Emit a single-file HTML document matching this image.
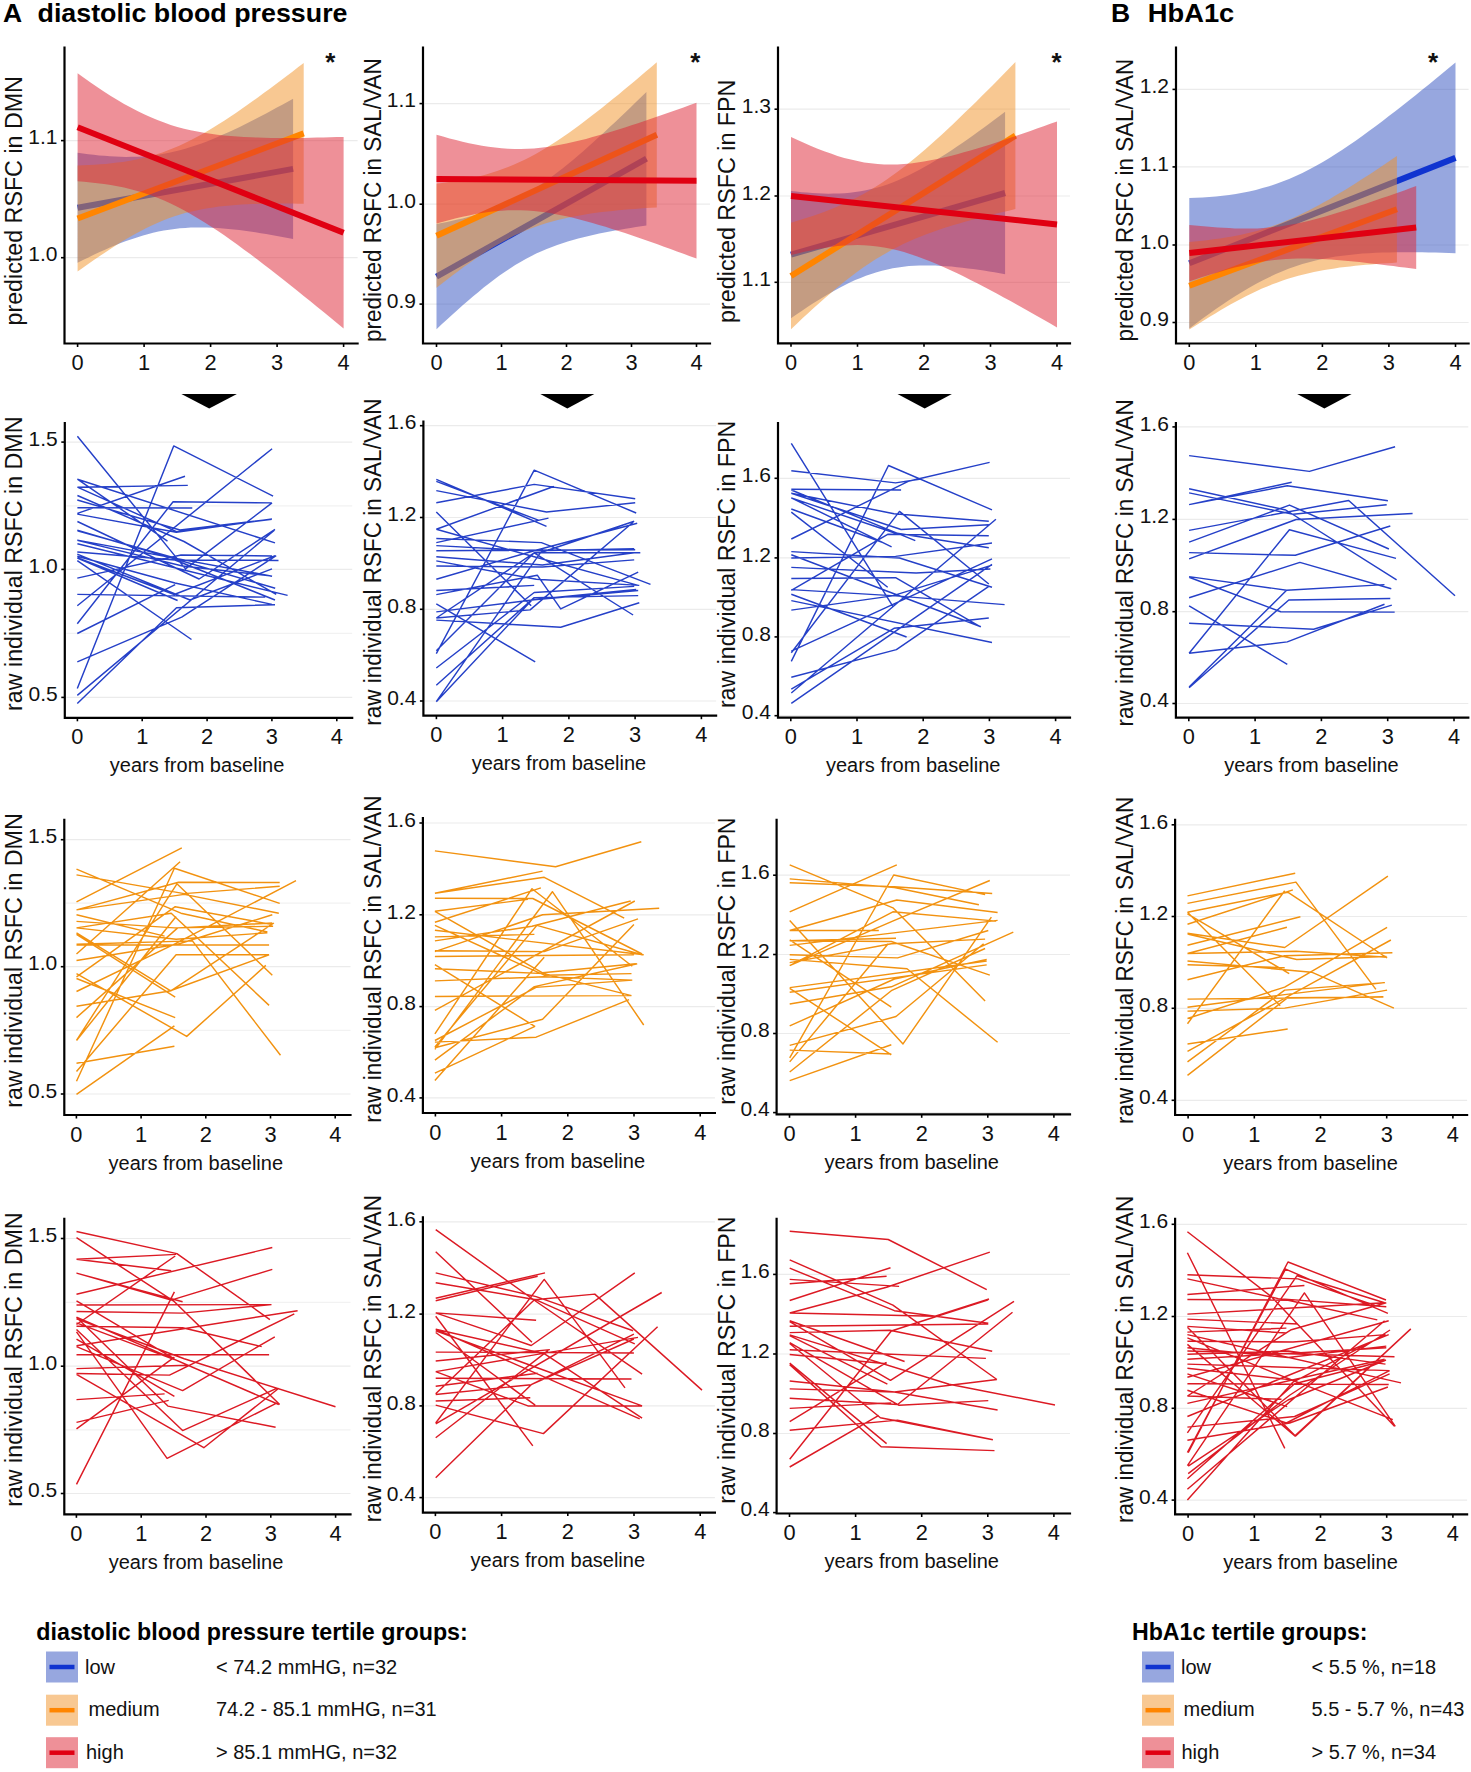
<!DOCTYPE html>
<html><head><meta charset="utf-8"><style>html,body{margin:0;padding:0;background:#fff;}svg{display:block;}</style></head>
<body><svg width="1471" height="1772" viewBox="0 0 1471 1772" font-family="Liberation Sans, sans-serif"><rect width="1471" height="1772" fill="#fff"/><line x1="66.0" y1="257.7" x2="357.6" y2="257.7" stroke="#ebebeb" stroke-width="1.2"/><line x1="66.0" y1="140.6" x2="357.6" y2="140.6" stroke="#ebebeb" stroke-width="1.2"/><line x1="424.5" y1="304.1" x2="710.0" y2="304.1" stroke="#ebebeb" stroke-width="1.2"/><line x1="424.5" y1="204.2" x2="710.0" y2="204.2" stroke="#ebebeb" stroke-width="1.2"/><line x1="424.5" y1="103.6" x2="710.0" y2="103.6" stroke="#ebebeb" stroke-width="1.2"/><line x1="779.5" y1="282.3" x2="1070.0" y2="282.3" stroke="#ebebeb" stroke-width="1.2"/><line x1="779.5" y1="196.0" x2="1070.0" y2="196.0" stroke="#ebebeb" stroke-width="1.2"/><line x1="779.5" y1="109.2" x2="1070.0" y2="109.2" stroke="#ebebeb" stroke-width="1.2"/><line x1="1177.5" y1="322.5" x2="1468.6" y2="322.5" stroke="#ebebeb" stroke-width="1.2"/><line x1="1177.5" y1="245.0" x2="1468.6" y2="245.0" stroke="#ebebeb" stroke-width="1.2"/><line x1="1177.5" y1="166.9" x2="1468.6" y2="166.9" stroke="#ebebeb" stroke-width="1.2"/><line x1="1177.5" y1="89.4" x2="1468.6" y2="89.4" stroke="#ebebeb" stroke-width="1.2"/><line x1="66.3" y1="697.4" x2="352.2" y2="697.4" stroke="#ebebeb" stroke-width="1.2"/><line x1="66.3" y1="569.4" x2="352.2" y2="569.4" stroke="#ebebeb" stroke-width="1.2"/><line x1="66.3" y1="442.1" x2="352.2" y2="442.1" stroke="#ebebeb" stroke-width="1.2"/><line x1="66.3" y1="505.8" x2="352.2" y2="505.8" stroke="#f2f2f2" stroke-width="1.2"/><line x1="66.3" y1="633.4" x2="352.2" y2="633.4" stroke="#f2f2f2" stroke-width="1.2"/><line x1="424.9" y1="701.0" x2="716.1" y2="701.0" stroke="#ebebeb" stroke-width="1.2"/><line x1="424.9" y1="609.3" x2="716.1" y2="609.3" stroke="#ebebeb" stroke-width="1.2"/><line x1="424.9" y1="517.5" x2="716.1" y2="517.5" stroke="#ebebeb" stroke-width="1.2"/><line x1="424.9" y1="425.7" x2="716.1" y2="425.7" stroke="#ebebeb" stroke-width="1.2"/><line x1="779.5" y1="715.7" x2="1070.0" y2="715.7" stroke="#ebebeb" stroke-width="1.2"/><line x1="779.5" y1="636.9" x2="1070.0" y2="636.9" stroke="#ebebeb" stroke-width="1.2"/><line x1="779.5" y1="557.9" x2="1070.0" y2="557.9" stroke="#ebebeb" stroke-width="1.2"/><line x1="779.5" y1="478.3" x2="1070.0" y2="478.3" stroke="#ebebeb" stroke-width="1.2"/><line x1="1177.4" y1="703.5" x2="1468.3" y2="703.5" stroke="#ebebeb" stroke-width="1.2"/><line x1="1177.4" y1="611.7" x2="1468.3" y2="611.7" stroke="#ebebeb" stroke-width="1.2"/><line x1="1177.4" y1="519.4" x2="1468.3" y2="519.4" stroke="#ebebeb" stroke-width="1.2"/><line x1="1177.4" y1="426.9" x2="1468.3" y2="426.9" stroke="#ebebeb" stroke-width="1.2"/><line x1="65.8" y1="1094.0" x2="350.5" y2="1094.0" stroke="#ebebeb" stroke-width="1.2"/><line x1="65.8" y1="966.7" x2="350.5" y2="966.7" stroke="#ebebeb" stroke-width="1.2"/><line x1="65.8" y1="839.7" x2="350.5" y2="839.7" stroke="#ebebeb" stroke-width="1.2"/><line x1="65.8" y1="903.2" x2="350.5" y2="903.2" stroke="#f2f2f2" stroke-width="1.2"/><line x1="65.8" y1="1030.3" x2="350.5" y2="1030.3" stroke="#f2f2f2" stroke-width="1.2"/><line x1="424.4" y1="1097.9" x2="714.9" y2="1097.9" stroke="#ebebeb" stroke-width="1.2"/><line x1="424.4" y1="1006.6" x2="714.9" y2="1006.6" stroke="#ebebeb" stroke-width="1.2"/><line x1="424.4" y1="914.8" x2="714.9" y2="914.8" stroke="#ebebeb" stroke-width="1.2"/><line x1="424.4" y1="823.0" x2="714.9" y2="823.0" stroke="#ebebeb" stroke-width="1.2"/><line x1="778.1" y1="1112.6" x2="1070.0" y2="1112.6" stroke="#ebebeb" stroke-width="1.2"/><line x1="778.1" y1="1033.5" x2="1070.0" y2="1033.5" stroke="#ebebeb" stroke-width="1.2"/><line x1="778.1" y1="954.5" x2="1070.0" y2="954.5" stroke="#ebebeb" stroke-width="1.2"/><line x1="778.1" y1="875.2" x2="1070.0" y2="875.2" stroke="#ebebeb" stroke-width="1.2"/><line x1="1176.6" y1="1100.3" x2="1467.1" y2="1100.3" stroke="#ebebeb" stroke-width="1.2"/><line x1="1176.6" y1="1008.3" x2="1467.1" y2="1008.3" stroke="#ebebeb" stroke-width="1.2"/><line x1="1176.6" y1="916.5" x2="1467.1" y2="916.5" stroke="#ebebeb" stroke-width="1.2"/><line x1="1176.6" y1="824.8" x2="1467.1" y2="824.8" stroke="#ebebeb" stroke-width="1.2"/><line x1="65.8" y1="1493.5" x2="350.5" y2="1493.5" stroke="#ebebeb" stroke-width="1.2"/><line x1="65.8" y1="1366.2" x2="350.5" y2="1366.2" stroke="#ebebeb" stroke-width="1.2"/><line x1="65.8" y1="1238.5" x2="350.5" y2="1238.5" stroke="#ebebeb" stroke-width="1.2"/><line x1="65.8" y1="1302.3" x2="350.5" y2="1302.3" stroke="#f2f2f2" stroke-width="1.2"/><line x1="65.8" y1="1429.8" x2="350.5" y2="1429.8" stroke="#f2f2f2" stroke-width="1.2"/><line x1="424.4" y1="1497.6" x2="714.9" y2="1497.6" stroke="#ebebeb" stroke-width="1.2"/><line x1="424.4" y1="1405.9" x2="714.9" y2="1405.9" stroke="#ebebeb" stroke-width="1.2"/><line x1="424.4" y1="1314.1" x2="714.9" y2="1314.1" stroke="#ebebeb" stroke-width="1.2"/><line x1="424.4" y1="1221.8" x2="714.9" y2="1221.8" stroke="#ebebeb" stroke-width="1.2"/><line x1="778.1" y1="1512.6" x2="1070.0" y2="1512.6" stroke="#ebebeb" stroke-width="1.2"/><line x1="778.1" y1="1433.5" x2="1070.0" y2="1433.5" stroke="#ebebeb" stroke-width="1.2"/><line x1="778.1" y1="1354.0" x2="1070.0" y2="1354.0" stroke="#ebebeb" stroke-width="1.2"/><line x1="778.1" y1="1274.4" x2="1070.0" y2="1274.4" stroke="#ebebeb" stroke-width="1.2"/><line x1="1176.6" y1="1500.1" x2="1467.1" y2="1500.1" stroke="#ebebeb" stroke-width="1.2"/><line x1="1176.6" y1="1408.3" x2="1467.1" y2="1408.3" stroke="#ebebeb" stroke-width="1.2"/><line x1="1176.6" y1="1316.5" x2="1467.1" y2="1316.5" stroke="#ebebeb" stroke-width="1.2"/><line x1="1176.6" y1="1224.3" x2="1467.1" y2="1224.3" stroke="#ebebeb" stroke-width="1.2"/><path d="M77.6 152.7 L83.0 153.5 L88.4 154.2 L93.8 154.8 L99.1 155.4 L104.5 155.8 L109.9 156.2 L115.3 156.6 L120.7 156.8 L126.1 156.9 L131.5 156.8 L136.9 156.7 L142.2 156.4 L147.6 156.0 L153.0 155.4 L158.4 154.7 L163.8 153.8 L169.2 152.7 L174.6 151.5 L179.9 150.2 L185.3 148.7 L190.7 147.1 L196.1 145.3 L201.5 143.4 L206.9 141.4 L212.3 139.2 L217.6 137.0 L223.0 134.6 L228.4 132.2 L233.8 129.7 L239.2 127.2 L244.6 124.5 L250.0 121.8 L255.4 119.1 L260.7 116.3 L266.1 113.4 L271.5 110.6 L276.9 107.6 L282.3 104.7 L287.7 101.7 L293.1 98.7 L293.1 239.1 L287.7 238.0 L282.3 237.0 L276.9 236.0 L271.5 235.0 L266.1 234.1 L260.7 233.2 L255.4 232.3 L250.0 231.5 L244.6 230.7 L239.2 230.0 L233.8 229.4 L228.4 228.9 L223.0 228.4 L217.6 228.0 L212.3 227.7 L206.9 227.5 L201.5 227.4 L196.1 227.4 L190.7 227.6 L185.3 227.9 L179.9 228.3 L174.6 228.9 L169.2 229.7 L163.8 230.6 L158.4 231.6 L153.0 232.8 L147.6 234.2 L142.2 235.7 L136.9 237.4 L131.5 239.2 L126.1 241.1 L120.7 243.1 L115.3 245.3 L109.9 247.5 L104.5 249.9 L99.1 252.3 L93.8 254.8 L88.4 257.4 L83.0 260.0 L77.6 262.7Z" fill="#2f4fc0" fill-opacity="0.5"/><line x1="77.6" y1="207.7" x2="293.1" y2="168.9" stroke="#1034d0" stroke-width="6"/><path d="M77.6 165.5 L83.3 165.3 L88.9 165.0 L94.6 164.7 L100.2 164.3 L105.9 163.9 L111.5 163.3 L117.2 162.6 L122.8 161.9 L128.5 161.0 L134.1 159.9 L139.8 158.8 L145.4 157.4 L151.1 155.9 L156.7 154.2 L162.4 152.4 L168.0 150.3 L173.7 148.1 L179.3 145.7 L185.0 143.0 L190.6 140.2 L196.3 137.3 L202.0 134.2 L207.6 130.9 L213.3 127.5 L218.9 124.0 L224.6 120.4 L230.2 116.7 L235.9 112.9 L241.5 109.0 L247.2 105.0 L252.8 101.0 L258.5 97.0 L264.1 92.8 L269.8 88.7 L275.4 84.5 L281.1 80.2 L286.7 76.0 L292.4 71.7 L298.0 67.3 L303.7 63.0 L303.7 203.8 L298.0 203.7 L292.4 203.6 L286.7 203.6 L281.1 203.6 L275.4 203.6 L269.8 203.6 L264.1 203.7 L258.5 203.9 L252.8 204.1 L247.2 204.3 L241.5 204.6 L235.9 205.0 L230.2 205.4 L224.6 206.0 L218.9 206.6 L213.3 207.4 L207.6 208.2 L202.0 209.2 L196.3 210.4 L190.6 211.7 L185.0 213.1 L179.3 214.8 L173.7 216.6 L168.0 218.6 L162.4 220.8 L156.7 223.2 L151.1 225.8 L145.4 228.5 L139.8 231.4 L134.1 234.5 L128.5 237.7 L122.8 241.1 L117.2 244.6 L111.5 248.2 L105.9 251.9 L100.2 255.7 L94.6 259.5 L88.9 263.4 L83.3 267.4 L77.6 271.5Z" fill="#f19225" fill-opacity="0.5"/><line x1="77.6" y1="218.5" x2="303.7" y2="133.4" stroke="#ff8500" stroke-width="6"/><path d="M77.6 73.3 L84.2 78.1 L90.9 82.7 L97.5 87.3 L104.2 91.7 L110.8 95.9 L117.5 100.0 L124.1 103.9 L130.8 107.6 L137.4 111.1 L144.1 114.3 L150.8 117.3 L157.4 120.1 L164.1 122.6 L170.7 124.9 L177.3 126.9 L184.0 128.7 L190.6 130.2 L197.3 131.6 L203.9 132.8 L210.6 133.8 L217.2 134.7 L223.9 135.4 L230.5 136.0 L237.2 136.5 L243.8 137.0 L250.5 137.3 L257.1 137.5 L263.8 137.7 L270.4 137.9 L277.1 138.0 L283.8 138.0 L290.4 138.0 L297.0 138.0 L303.7 137.9 L310.4 137.8 L317.0 137.6 L323.6 137.5 L330.3 137.3 L336.9 137.1 L343.6 136.9 L343.6 328.5 L336.9 323.0 L330.3 317.5 L323.6 312.1 L317.0 306.7 L310.4 301.3 L303.7 295.9 L297.0 290.6 L290.4 285.2 L283.8 280.0 L277.1 274.7 L270.4 269.6 L263.8 264.4 L257.1 259.3 L250.5 254.3 L243.8 249.4 L237.2 244.5 L230.5 239.8 L223.9 235.1 L217.2 230.6 L210.6 226.2 L203.9 221.9 L197.3 217.9 L190.6 213.9 L184.0 210.2 L177.3 206.8 L170.7 203.5 L164.1 200.5 L157.4 197.7 L150.8 195.2 L144.1 193.0 L137.4 191.0 L130.8 189.2 L124.1 187.6 L117.5 186.2 L110.8 185.0 L104.2 184.0 L97.5 183.2 L90.9 182.4 L84.2 181.8 L77.6 181.3Z" fill="#de2131" fill-opacity="0.5"/><line x1="77.6" y1="127.3" x2="343.6" y2="232.7" stroke="#e00012" stroke-width="6"/><path d="M436.5 224.0 L441.7 223.0 L447.0 221.9 L452.2 220.8 L457.5 219.6 L462.7 218.4 L468.0 217.1 L473.2 215.6 L478.5 214.1 L483.7 212.5 L489.0 210.7 L494.2 208.9 L499.5 206.8 L504.7 204.6 L510.0 202.2 L515.2 199.7 L520.5 197.0 L525.7 194.0 L531.0 190.9 L536.2 187.6 L541.5 184.1 L546.7 180.4 L552.0 176.6 L557.2 172.6 L562.5 168.5 L567.7 164.3 L573.0 159.9 L578.2 155.5 L583.5 150.9 L588.7 146.3 L594.0 141.6 L599.2 136.8 L604.5 132.0 L609.7 127.1 L615.0 122.2 L620.2 117.2 L625.5 112.2 L630.7 107.2 L636.0 102.1 L641.2 97.0 L646.4 91.9 L646.4 225.5 L641.2 226.3 L636.0 227.1 L630.7 227.9 L625.5 228.8 L620.2 229.7 L615.0 230.6 L609.7 231.6 L604.5 232.6 L599.2 233.6 L594.0 234.8 L588.7 236.0 L583.5 237.2 L578.2 238.6 L573.0 240.0 L567.7 241.5 L562.5 243.2 L557.2 245.0 L552.0 246.9 L546.7 249.0 L541.5 251.2 L536.2 253.6 L531.0 256.2 L525.7 259.0 L520.5 261.9 L515.2 265.1 L510.0 268.4 L504.7 271.9 L499.5 275.6 L494.2 279.5 L489.0 283.5 L483.7 287.6 L478.5 291.9 L473.2 296.3 L468.0 300.8 L462.7 305.3 L457.5 310.0 L452.2 314.7 L447.0 319.5 L441.7 324.3 L436.5 329.2Z" fill="#2f4fc0" fill-opacity="0.5"/><line x1="436.5" y1="276.6" x2="646.5" y2="158.7" stroke="#1034d0" stroke-width="6"/><path d="M436.5 183.8 L442.0 183.1 L447.5 182.3 L453.0 181.5 L458.5 180.5 L464.0 179.5 L469.6 178.4 L475.1 177.2 L480.6 175.9 L486.1 174.4 L491.6 172.8 L497.1 171.0 L502.6 169.1 L508.1 167.0 L513.6 164.8 L519.1 162.3 L524.6 159.7 L530.1 156.9 L535.7 153.9 L541.2 150.8 L546.7 147.5 L552.2 144.1 L557.7 140.5 L563.2 136.8 L568.7 132.9 L574.2 129.0 L579.7 124.9 L585.2 120.8 L590.7 116.6 L596.3 112.3 L601.8 108.0 L607.3 103.6 L612.8 99.1 L618.3 94.7 L623.8 90.1 L629.3 85.5 L634.8 80.9 L640.3 76.3 L645.8 71.6 L651.3 66.9 L656.8 62.2 L656.8 207.4 L651.3 207.7 L645.8 208.1 L640.3 208.5 L634.8 208.9 L629.3 209.3 L623.8 209.8 L618.3 210.3 L612.8 210.9 L607.3 211.5 L601.8 212.1 L596.3 212.8 L590.7 213.6 L585.2 214.4 L579.7 215.4 L574.2 216.4 L568.7 217.5 L563.2 218.7 L557.7 220.0 L552.2 221.5 L546.7 223.1 L541.2 224.8 L535.7 226.8 L530.1 228.8 L524.6 231.1 L519.1 233.5 L513.6 236.1 L508.1 238.9 L502.6 241.9 L497.1 245.0 L491.6 248.3 L486.1 251.8 L480.6 255.3 L475.1 259.1 L469.6 262.9 L464.0 266.8 L458.5 270.9 L453.0 275.0 L447.5 279.2 L442.0 283.5 L436.5 287.8Z" fill="#f19225" fill-opacity="0.5"/><line x1="436.5" y1="235.8" x2="656.9" y2="134.8" stroke="#ff8500" stroke-width="6"/><path d="M436.5 134.7 L443.0 136.6 L449.5 138.4 L456.0 140.1 L462.5 141.7 L469.0 143.2 L475.5 144.5 L482.0 145.7 L488.5 146.8 L495.0 147.6 L501.5 148.3 L508.0 148.7 L514.5 149.0 L521.0 149.0 L527.5 148.8 L534.0 148.4 L540.5 147.8 L547.0 146.9 L553.5 146.0 L560.0 144.8 L566.5 143.5 L573.0 142.1 L579.5 140.5 L586.0 138.9 L592.5 137.1 L599.0 135.3 L605.5 133.4 L612.0 131.5 L618.5 129.5 L625.0 127.4 L631.5 125.3 L638.0 123.2 L644.5 121.0 L651.0 118.8 L657.5 116.6 L664.0 114.3 L670.5 112.1 L677.0 109.8 L683.5 107.5 L690.0 105.1 L696.5 102.8 L696.5 258.6 L690.0 256.2 L683.5 253.8 L677.0 251.4 L670.5 249.0 L664.0 246.7 L657.5 244.3 L651.0 242.0 L644.5 239.7 L638.0 237.5 L631.5 235.3 L625.0 233.1 L618.5 231.0 L612.0 228.9 L605.5 226.8 L599.0 224.9 L592.5 223.0 L586.0 221.2 L579.5 219.4 L573.0 217.8 L566.5 216.3 L560.0 214.9 L553.5 213.7 L547.0 212.6 L540.5 211.7 L534.0 211.0 L527.5 210.5 L521.0 210.2 L514.5 210.2 L508.0 210.3 L501.5 210.7 L495.0 211.3 L488.5 212.1 L482.0 213.0 L475.5 214.1 L469.0 215.4 L462.5 216.8 L456.0 218.3 L449.5 220.0 L443.0 221.7 L436.5 223.5Z" fill="#de2131" fill-opacity="0.5"/><line x1="436.5" y1="179.1" x2="696.5" y2="180.7" stroke="#e00012" stroke-width="6"/><path d="M791.0 191.0 L796.4 191.6 L801.7 192.2 L807.1 192.6 L812.4 193.0 L817.8 193.3 L823.1 193.6 L828.5 193.7 L833.8 193.6 L839.2 193.5 L844.5 193.2 L849.9 192.7 L855.2 192.1 L860.6 191.3 L865.9 190.3 L871.3 189.1 L876.7 187.7 L882.0 186.2 L887.4 184.4 L892.7 182.4 L898.1 180.2 L903.4 177.8 L908.8 175.3 L914.1 172.6 L919.5 169.8 L924.8 166.8 L930.2 163.7 L935.5 160.4 L940.9 157.1 L946.2 153.7 L951.6 150.2 L957.0 146.6 L962.3 142.9 L967.7 139.2 L973.0 135.4 L978.4 131.6 L983.7 127.7 L989.1 123.8 L994.4 119.8 L999.8 115.8 L1005.1 111.8 L1005.1 274.2 L999.8 273.3 L994.4 272.3 L989.1 271.5 L983.7 270.6 L978.4 269.8 L973.0 269.1 L967.7 268.4 L962.3 267.7 L957.0 267.2 L951.6 266.6 L946.2 266.2 L940.9 265.9 L935.5 265.6 L930.2 265.5 L924.8 265.4 L919.5 265.5 L914.1 265.7 L908.8 266.1 L903.4 266.7 L898.1 267.4 L892.7 268.3 L887.4 269.4 L882.0 270.7 L876.7 272.2 L871.3 273.9 L865.9 275.8 L860.6 277.9 L855.2 280.1 L849.9 282.6 L844.5 285.2 L839.2 288.0 L833.8 290.9 L828.5 294.0 L823.1 297.2 L817.8 300.5 L812.4 303.8 L807.1 307.3 L801.7 310.9 L796.4 314.5 L791.0 318.2Z" fill="#2f4fc0" fill-opacity="0.5"/><line x1="791.0" y1="254.6" x2="1005.1" y2="193.0" stroke="#1034d0" stroke-width="6"/><path d="M791.0 222.7 L796.6 221.0 L802.2 219.3 L807.8 217.5 L813.4 215.7 L819.1 213.7 L824.7 211.7 L830.3 209.5 L835.9 207.2 L841.5 204.8 L847.1 202.3 L852.7 199.6 L858.3 196.7 L863.9 193.7 L869.6 190.5 L875.2 187.1 L880.8 183.5 L886.4 179.8 L892.0 175.8 L897.6 171.7 L903.2 167.5 L908.8 163.0 L914.4 158.5 L920.1 153.8 L925.7 149.0 L931.3 144.0 L936.9 139.0 L942.5 133.9 L948.1 128.7 L953.7 123.4 L959.3 118.0 L964.9 112.6 L970.5 107.2 L976.2 101.7 L981.8 96.1 L987.4 90.5 L993.0 84.9 L998.6 79.2 L1004.2 73.6 L1009.8 67.8 L1015.4 62.1 L1015.4 209.1 L1009.8 210.4 L1004.2 211.7 L998.6 213.0 L993.0 214.4 L987.4 215.8 L981.8 217.2 L976.2 218.7 L970.5 220.2 L964.9 221.7 L959.3 223.4 L953.7 225.0 L948.1 226.8 L942.5 228.6 L936.9 230.5 L931.3 232.5 L925.7 234.6 L920.1 236.8 L914.4 239.1 L908.8 241.5 L903.2 244.1 L897.6 246.9 L892.0 249.8 L886.4 252.9 L880.8 256.2 L875.2 259.6 L869.6 263.3 L863.9 267.1 L858.3 271.1 L852.7 275.2 L847.1 279.5 L841.5 284.0 L835.9 288.6 L830.3 293.4 L824.7 298.2 L819.1 303.2 L813.4 308.2 L807.8 313.4 L802.2 318.6 L796.6 323.9 L791.0 329.3Z" fill="#f19225" fill-opacity="0.5"/><line x1="791.0" y1="276.0" x2="1015.4" y2="135.6" stroke="#ff8500" stroke-width="6"/><path d="M791.0 136.9 L797.6 140.0 L804.3 143.0 L811.0 145.9 L817.6 148.7 L824.2 151.2 L830.9 153.6 L837.5 155.9 L844.2 157.9 L850.9 159.6 L857.5 161.1 L864.1 162.4 L870.8 163.3 L877.5 164.0 L884.1 164.4 L890.8 164.6 L897.4 164.4 L904.0 164.0 L910.7 163.4 L917.4 162.6 L924.0 161.5 L930.6 160.3 L937.3 159.0 L944.0 157.5 L950.6 155.9 L957.2 154.2 L963.9 152.3 L970.5 150.5 L977.2 148.5 L983.9 146.5 L990.5 144.4 L997.1 142.2 L1003.8 140.0 L1010.5 137.8 L1017.1 135.6 L1023.8 133.3 L1030.4 130.9 L1037.0 128.6 L1043.7 126.2 L1050.3 123.8 L1057.0 121.4 L1057.0 327.4 L1050.3 323.6 L1043.7 319.7 L1037.0 316.0 L1030.4 312.2 L1023.8 308.4 L1017.1 304.7 L1010.5 301.0 L1003.8 297.4 L997.1 293.8 L990.5 290.2 L983.9 286.7 L977.2 283.3 L970.5 279.9 L963.9 276.6 L957.2 273.3 L950.6 270.2 L944.0 267.2 L937.3 264.3 L930.6 261.5 L924.0 258.9 L917.4 256.4 L910.7 254.2 L904.0 252.1 L897.4 250.3 L890.8 248.7 L884.1 247.5 L877.5 246.4 L870.8 245.7 L864.1 245.2 L857.5 245.1 L850.9 245.2 L844.2 245.5 L837.5 246.1 L830.9 246.9 L824.2 247.9 L817.6 249.0 L811.0 250.4 L804.3 251.8 L797.6 253.4 L791.0 255.1Z" fill="#de2131" fill-opacity="0.5"/><line x1="791.0" y1="196.0" x2="1057.0" y2="224.4" stroke="#e00012" stroke-width="6"/><path d="M1189.3 198.1 L1196.0 197.8 L1202.6 197.4 L1209.3 197.0 L1215.9 196.4 L1222.6 195.7 L1229.2 194.9 L1235.9 193.9 L1242.5 192.7 L1249.2 191.4 L1255.8 189.9 L1262.5 188.1 L1269.2 186.2 L1275.8 184.0 L1282.5 181.6 L1289.1 178.9 L1295.8 176.0 L1302.4 172.9 L1309.1 169.5 L1315.7 166.0 L1322.4 162.2 L1329.1 158.2 L1335.7 154.0 L1342.4 149.7 L1349.0 145.3 L1355.7 140.7 L1362.3 135.9 L1369.0 131.1 L1375.6 126.2 L1382.3 121.2 L1388.9 116.1 L1395.6 111.0 L1402.3 105.8 L1408.9 100.5 L1415.6 95.2 L1422.2 89.8 L1428.9 84.4 L1435.5 79.0 L1442.2 73.5 L1448.8 68.0 L1455.5 62.5 L1455.5 253.3 L1448.8 253.0 L1442.2 252.8 L1435.5 252.6 L1428.9 252.4 L1422.2 252.3 L1415.6 252.2 L1408.9 252.2 L1402.3 252.2 L1395.6 252.3 L1388.9 252.4 L1382.3 252.6 L1375.6 252.8 L1369.0 253.2 L1362.3 253.6 L1355.7 254.2 L1349.0 254.9 L1342.4 255.7 L1335.7 256.6 L1329.1 257.7 L1322.4 259.0 L1315.7 260.5 L1309.1 262.2 L1302.4 264.1 L1295.8 266.2 L1289.1 268.6 L1282.5 271.2 L1275.8 274.1 L1269.2 277.2 L1262.5 280.5 L1255.8 284.0 L1249.2 287.8 L1242.5 291.7 L1235.9 295.8 L1229.2 300.1 L1222.6 304.6 L1215.9 309.1 L1209.3 313.8 L1202.6 318.6 L1196.0 323.5 L1189.3 328.5Z" fill="#2f4fc0" fill-opacity="0.5"/><line x1="1189.3" y1="263.3" x2="1455.5" y2="157.9" stroke="#1034d0" stroke-width="6"/><path d="M1189.3 242.0 L1194.5 241.5 L1199.7 241.0 L1204.9 240.4 L1210.1 239.8 L1215.3 239.1 L1220.4 238.4 L1225.6 237.6 L1230.8 236.7 L1236.0 235.7 L1241.2 234.7 L1246.4 233.5 L1251.6 232.3 L1256.8 230.9 L1262.0 229.4 L1267.2 227.8 L1272.4 226.1 L1277.5 224.2 L1282.7 222.2 L1287.9 220.1 L1293.1 217.9 L1298.3 215.5 L1303.5 213.0 L1308.7 210.5 L1313.9 207.8 L1319.1 205.0 L1324.3 202.1 L1329.5 199.2 L1334.6 196.1 L1339.8 193.0 L1345.0 189.9 L1350.2 186.7 L1355.4 183.4 L1360.6 180.1 L1365.8 176.8 L1371.0 173.4 L1376.2 169.9 L1381.4 166.5 L1386.6 163.0 L1391.7 159.5 L1396.9 156.0 L1396.9 262.6 L1391.7 262.9 L1386.6 263.2 L1381.4 263.6 L1376.2 264.0 L1371.0 264.4 L1365.8 264.8 L1360.6 265.3 L1355.4 265.8 L1350.2 266.4 L1345.0 267.0 L1339.8 267.6 L1334.6 268.4 L1329.5 269.2 L1324.3 270.0 L1319.1 271.0 L1313.9 272.0 L1308.7 273.2 L1303.5 274.4 L1298.3 275.8 L1293.1 277.2 L1287.9 278.8 L1282.7 280.5 L1277.5 282.4 L1272.4 284.3 L1267.2 286.4 L1262.0 288.6 L1256.8 291.0 L1251.6 293.4 L1246.4 296.0 L1241.2 298.7 L1236.0 301.5 L1230.8 304.3 L1225.6 307.3 L1220.4 310.3 L1215.3 313.4 L1210.1 316.5 L1204.9 319.7 L1199.7 323.0 L1194.5 326.3 L1189.3 329.6Z" fill="#f19225" fill-opacity="0.5"/><line x1="1189.3" y1="285.8" x2="1396.9" y2="209.3" stroke="#ff8500" stroke-width="6"/><path d="M1189.3 224.9 L1195.0 225.5 L1200.6 226.0 L1206.3 226.6 L1212.0 227.0 L1217.7 227.5 L1223.3 227.8 L1229.0 228.1 L1234.7 228.4 L1240.4 228.5 L1246.0 228.6 L1251.7 228.5 L1257.4 228.4 L1263.1 228.1 L1268.7 227.6 L1274.4 227.1 L1280.1 226.4 L1285.7 225.5 L1291.4 224.5 L1297.1 223.4 L1302.8 222.2 L1308.4 220.9 L1314.1 219.5 L1319.8 218.0 L1325.5 216.4 L1331.1 214.7 L1336.8 213.0 L1342.5 211.3 L1348.2 209.5 L1353.8 207.7 L1359.5 205.8 L1365.2 203.9 L1370.8 202.0 L1376.5 200.1 L1382.2 198.1 L1387.9 196.2 L1393.5 194.2 L1399.2 192.2 L1404.9 190.2 L1410.6 188.1 L1416.2 186.1 L1416.2 269.1 L1410.6 268.3 L1404.9 267.6 L1399.2 266.9 L1393.5 266.1 L1387.9 265.4 L1382.2 264.7 L1376.5 264.0 L1370.8 263.4 L1365.2 262.8 L1359.5 262.1 L1353.8 261.6 L1348.2 261.0 L1342.5 260.5 L1336.8 260.0 L1331.1 259.6 L1325.5 259.2 L1319.8 258.9 L1314.1 258.7 L1308.4 258.5 L1302.8 258.5 L1297.1 258.5 L1291.4 258.7 L1285.7 259.0 L1280.1 259.4 L1274.4 260.0 L1268.7 260.7 L1263.1 261.6 L1257.4 262.5 L1251.7 263.7 L1246.0 264.9 L1240.4 266.2 L1234.7 267.6 L1229.0 269.1 L1223.3 270.7 L1217.7 272.4 L1212.0 274.1 L1206.3 275.8 L1200.6 277.6 L1195.0 279.4 L1189.3 281.3Z" fill="#de2131" fill-opacity="0.5"/><line x1="1189.3" y1="253.1" x2="1416.2" y2="227.6" stroke="#e00012" stroke-width="6"/><path d="M77.4 436.3 L185.5 568.9 L272.0 502.9 M77.3 688.5 L173.7 445.9 L273.1 496.1 M77.3 623.7 L173.1 501.7 L271.9 502.9 M77.3 695.4 L274.4 530.2 M77.4 479.2 L275.0 542.9 M77.4 479.2 L167.5 541.2 M77.4 487.2 L187.8 485.4 M77.4 513.4 L185.0 476.3 M77.4 507.7 L192.3 508.0 M77.4 487.2 L176.5 531.6 L271.9 519.2 M77.4 495.5 L184.0 541.5 L276.2 594.3 M77.4 521.5 L199.1 579.0 L275.0 529.4 M77.4 530.8 L182.0 560.0 L278.5 560.4 M77.4 540.1 L272.0 576.2 M77.4 543.8 L287.6 595.4 M77.3 594.4 L265.3 597.1 M77.3 703.6 L176.5 607.7 L275.0 604.7 M77.3 633.5 L175.2 584.6 M77.3 661.8 L181.7 617.2 L276.2 555.7 M77.3 578.1 L181.0 555.0 L272.0 555.9 M77.3 558.0 L177.6 600.5 M77.3 560.7 L191.5 639.5 M77.3 552.0 L175.0 560.0 L275.0 600.0 M77.3 554.1 L190.0 600.0 L272.0 568.9 M77.3 605.7 L272.1 448.7 M77.3 556.3 L175.0 583.0 L272.0 604.4 M77.3 500.0 L180.0 530.0 L271.9 519.2 M77.3 514.1 L176.3 532.3 L272.0 519.0 M77.3 530.2 L275.2 588.3 M77.3 540.4 L182.4 566.0 L272.1 576.1 M77.3 557.8 L174.2 594.5 L275.2 555.7" fill="none" stroke="#2540c8" stroke-width="1.45" stroke-linejoin="round"/><path d="M436.3 479.3 L546.5 526.3 M436.3 481.4 L538.3 520.1 M436.3 490.6 L546.5 512.0 L635.2 502.8 M436.3 502.8 L534.2 484.4 L635.2 498.7 M436.3 512.0 L531.2 605.8 M436.3 653.7 L534.2 470.2 L636.2 513.0 M436.3 529.3 L553.6 486.5 M436.3 529.3 L534.2 556.8 L638.2 585.4 M436.3 538.5 L541.4 542.6 L650.5 584.4 M436.3 542.6 L548.5 518.1 M436.3 545.6 L534.2 550.7 L637.2 523.2 M436.3 550.7 L635.2 549.7 M436.3 556.8 L542.4 565.0 L634.2 552.8 M436.3 560.9 L536.3 579.3 L639.3 585.4 M436.3 566.0 L542.4 567.0 L634.2 559.9 M436.3 579.3 L534.2 550.7 L634.2 548.7 M436.3 590.5 L534.2 585.4 M436.3 594.6 L537.3 575.2 L560.7 608.9 L638.2 572.1 M436.3 603.8 L535.2 661.9 M436.3 611.9 L534.2 599.7 L638.2 590.5 M436.3 618.0 L534.2 552.8 L640.3 552.8 M436.3 620.1 L560.7 627.2 L639.3 602.7 M436.3 668.0 L534.2 592.5 L634.2 586.4 M436.3 685.3 L534.2 597.6 L638.2 595.6 M436.3 701.7 L540.3 552.8 L634.2 521.2 M436.3 701.7 L532.2 599.7 L636.2 589.5 M436.3 650.7 L534.2 552.8 L633.1 615.0 M436.3 618.0 L530.1 609.9 L633.1 522.2" fill="none" stroke="#2540c8" stroke-width="1.45" stroke-linejoin="round"/><path d="M791.3 443.4 L893.2 606.9 M791.3 470.8 L895.6 482.9 L920.9 479.0 M791.3 489.2 L901.1 490.0 M791.3 539.0 L908.2 481.3 L989.6 462.4 M791.3 490.0 L915.3 540.6 M791.3 493.2 L901.1 529.5 L988.8 524.8 M791.3 497.9 L891.6 546.9 M791.3 509.0 L882.2 542.2 M791.3 512.1 L887.7 587.2 M791.3 493.2 L894.0 513.7 L988.8 521.3 M791.3 652.7 L899.5 511.4 L988.8 584.0 M791.3 677.2 L896.4 649.6 L988.8 586.4 M791.3 551.6 L899.5 558.0 L992.0 587.2 M791.3 554.8 L980.9 626.7 M791.3 558.0 L895.6 556.4 L992.0 543.0 M791.3 567.4 L916.1 573.0 L990.4 569.0 M791.3 578.5 L895.6 577.7 L980.1 626.7 M791.3 590.3 L887.7 534.3 L988.8 535.8 M791.3 589.6 L895.6 595.9 L1004.6 604.6 M791.3 594.3 L906.6 637.0 M791.3 600.6 L992.0 642.5 M791.3 610.1 L892.4 595.9 L992.0 565.1 M791.3 651.2 L992.0 558.8 M791.3 661.4 L888.5 465.5 L992.0 509.8 M791.3 689.1 L894.0 628.3 L988.8 618.0 M791.3 693.0 L995.9 519.3 M791.3 703.3 L992.0 564.3 M791.3 497.9 L894.0 532.7 L988.8 547.7" fill="none" stroke="#2540c8" stroke-width="1.45" stroke-linejoin="round"/><path d="M1189.1 455.6 L1309.4 471.4 L1395.1 446.7 M1189.1 504.6 L1291.7 482.2 M1189.1 504.6 L1287.3 485.8 L1387.9 500.8 M1189.1 488.8 L1285.8 510.0 L1396.6 579.9 M1189.1 492.9 L1293.2 514.3 L1386.7 504.8 M1189.1 530.4 L1348.7 500.5 L1455.0 595.7 M1189.1 542.1 L1289.5 505.1 L1388.9 549.0 M1189.1 558.9 L1296.1 519.5 L1412.6 513.5 M1189.1 552.6 L1295.3 555.3 L1390.3 526.0 M1189.1 653.3 L1289.4 529.8 L1396.0 558.4 M1189.1 597.8 L1299.9 562.4 L1391.3 588.8 M1189.1 576.6 L1286.6 590.2 L1384.5 584.6 M1189.1 577.3 L1280.7 611.7 L1394.7 612.1 M1189.1 605.8 L1287.3 664.3 M1189.1 623.3 L1313.6 629.2 L1391.8 605.1 M1189.1 653.3 L1287.3 641.9 L1384.5 604.3 M1189.1 686.9 L1286.6 590.2 M1189.1 687.7 L1288.8 600.0 L1390.3 598.5" fill="none" stroke="#2540c8" stroke-width="1.45" stroke-linejoin="round"/><path d="M76.5 901.8 L181.8 847.9 M76.5 869.2 L180.9 913.2 L267.4 932.0 M76.5 1040.5 L176.9 883.8 L272.3 975.2 M76.5 954.0 L180.1 861.8 M76.5 1081.3 L174.4 868.3 L279.7 903.4 M76.5 909.9 L178.5 882.2 L279.7 882.5 M76.5 909.9 L184.2 894.4 L278.8 913.2 M76.5 991.5 L174.4 944.2 L296.0 880.6 M76.5 976.8 L175.2 906.7 L272.3 924.6 M76.5 927.9 L171.2 913.2 L269.1 1005.4 M76.5 944.2 L192.4 940.9 L280.5 1055.2 M76.5 945.0 L269.1 945.0 M76.5 932.8 L170.3 990.7 L269.1 954.8 M76.5 1071.5 L176.1 954.8 L269.1 954.8 M76.5 973.6 L186.7 1036.4 L265.8 965.4 M76.5 1063.3 L174.4 1046.2 M76.5 1094.3 L174.4 1025.8 M76.5 1006.2 L171.2 990.7 L273.9 923.0 M76.5 1017.6 L177.7 927.9 L272.3 923.0 M76.5 874.9 L184.2 893.6 L279.7 886.3 M76.5 914.8 L164.6 936.1 M76.5 921.4 L174.4 927.9 L273.1 926.3 M76.5 934.4 L175.2 997.2 M76.5 978.5 L175.2 1017.6 M76.5 960.5 L177.7 944.2 L272.3 914.8 M76.5 927.9 L176.1 939.3 L267.4 932.8 M76.5 1040.5 L176.1 916.5" fill="none" stroke="#f29210" stroke-width="1.45" stroke-linejoin="round"/><path d="M434.9 850.9 L555.6 866.7 L641.3 841.7 M434.9 893.3 L542.6 871.1 M434.9 893.3 L544.2 877.3 L624.2 918.1 M434.9 898.2 L532.8 898.5 L642.1 954.0 M434.9 1033.9 L532.0 888.7 L632.3 966.2 M434.9 922.2 L540.9 887.9 M434.9 1049.4 L552.4 891.7 L643.7 1025.0 M434.9 911.3 L542.6 972.8 L635.6 963.8 M434.9 911.3 L527.9 899.3 M434.9 951.6 L542.6 914.8 L659.2 908.3 M434.9 1010.3 L634.8 901.0 M434.9 1047.0 L536.9 925.4 L642.1 954.8 M434.9 940.9 L532.0 926.3 L630.7 901.0 M434.9 925.4 L544.2 975.2 L631.5 973.6 M434.9 930.3 L643.7 954.8 M434.9 950.7 L544.2 951.6 L638.0 918.9 M434.9 956.4 L633.9 954.8 M434.9 964.6 L535.2 1026.6 M434.9 968.7 L544.2 973.6 L631.5 995.6 M434.9 980.9 L544.2 976.8 L632.3 980.1 M434.9 996.4 L631.5 995.6 M434.9 1040.5 L536.1 987.4 L632.3 980.1 M434.9 1042.1 L536.1 1037.2 L629.1 999.7 M434.9 1047.8 L542.6 1019.3 L633.9 924.6 M434.9 1060.1 L534.4 986.6 L637.2 963.8 M434.9 1073.1 L534.4 1026.6 M434.9 1080.4 L544.2 957.3 M434.9 936.9 L534.4 934.4" fill="none" stroke="#f29210" stroke-width="1.45" stroke-linejoin="round"/><path d="M789.7 864.9 L892.9 907.8 L985.1 1000.9 M789.7 911.8 L896.8 864.9 M789.7 878.9 L894.4 887.5 L978.9 904.7 M789.7 882.8 L894.4 886.7 L992.2 893.5 M789.7 1057.9 L893.7 875.0 L985.1 894.6 M789.7 965.7 L894.4 920.4 L989.8 880.5 M789.7 930.5 L896.8 900.0 L997.6 912.5 M789.7 930.5 L878.8 930.5 M789.7 920.4 L903.0 1043.9 L991.4 917.2 M789.7 939.9 L891.3 1007.1 M789.7 940.7 L896.0 938.3 M789.7 940.7 L891.3 941.5 L989.8 975.1 M789.7 945.4 L997.6 920.4 M789.7 954.8 L897.6 957.9 L988.3 930.5 M789.7 962.6 L891.3 943.8 L985.1 939.1 M789.7 987.6 L986.7 961.0 M789.7 992.3 L986.7 964.9 M789.7 988.4 L891.3 1054.8 M789.7 1004.0 L891.3 986.8 L1013.3 932.1 M789.7 1025.9 L894.4 979.0 L986.7 959.4 M789.7 1045.4 L896.0 1016.5 L983.6 943.8 M789.7 1050.1 L891.3 1054.0 M789.7 1061.9 L888.2 943.8 M789.7 1072.0 L891.3 990.7 L985.1 948.5 M789.7 1080.6 L891.3 1044.7 M789.7 959.4 L907.0 968.8 L997.6 1042.3 M789.7 965.7 L892.9 911.8 L996.1 921.1" fill="none" stroke="#f29210" stroke-width="1.45" stroke-linejoin="round"/><path d="M1187.5 895.9 L1295.2 873.2 M1187.5 903.4 L1295.9 882.1 L1375.9 989.4 M1187.5 912.3 L1287.7 892.2 L1387.1 958.0 M1187.5 924.3 L1292.9 889.9 M1187.5 1023.8 L1284.7 890.7 M1187.5 912.3 L1280.2 1005.8 M1187.5 913.8 L1289.2 973.7 M1187.5 933.3 L1284.7 947.5 L1387.9 876.2 M1187.5 945.3 L1300.4 916.8 M1187.5 953.5 L1286.9 927.3 M1187.5 953.5 L1295.9 951.2 L1387.1 957.2 M1187.5 934.0 L1296.7 959.5 L1386.4 956.5 M1187.5 961.0 L1311.6 972.2 L1393.9 1008.1 M1187.5 979.7 L1284.7 955.7 L1392.4 952.7 M1187.5 999.1 L1383.4 996.9 M1187.5 1007.3 L1284.7 994.6 L1384.2 982.6 M1187.5 1011.1 L1284.7 1008.1 L1387.1 990.1 M1187.5 1018.5 L1284.7 987.1 L1387.1 927.3 M1187.5 1044.0 L1287.7 1029.0 M1187.5 1051.4 L1390.9 940.0 M1187.5 1061.9 L1284.7 990.1 L1384.9 982.6 M1187.5 1075.4 L1287.7 997.6 L1383.4 996.9 M1187.5 964.7 L1284.7 967.7" fill="none" stroke="#f29210" stroke-width="1.45" stroke-linejoin="round"/><path d="M76.5 1231.5 L176.9 1253.6 L269.9 1319.6 M76.5 1237.7 L174.4 1301.7 L279.7 1404.5 M76.5 1259.3 L171.2 1270.7 M76.5 1259.3 L176.1 1254.4 M76.5 1294.3 L272.3 1247.5 M76.5 1324.5 L175.2 1256.0 M76.5 1273.1 L182.6 1301.7 M76.5 1273.1 L171.2 1300.1 L272.3 1269.4 M76.5 1484.4 L174.4 1291.9 M76.5 1304.9 L271.5 1304.6 M76.5 1300.9 L174.4 1358.8 M76.5 1311.5 L182.6 1313.1 L271.5 1304.6 M76.5 1317.2 L278.8 1404.5 M76.5 1317.2 L167.9 1406.1 L275.6 1427.3 M76.5 1326.2 L182.6 1327.8 L261.7 1346.6 M76.5 1329.4 L182.6 1430.6 L277.2 1388.2 M76.5 1331.9 L167.1 1458.3 L275.6 1403.7 M76.5 1345.7 L297.6 1310.7 M76.5 1346.6 L182.6 1390.6 L274.8 1336.8 M76.5 1354.7 L269.1 1354.7 M76.5 1368.6 L187.5 1365.3 M76.5 1373.5 L169.5 1375.1 L294.3 1313.9 M76.5 1374.3 L203.8 1447.7 L278.8 1388.2 M76.5 1399.6 L164.6 1393.9 M76.5 1422.4 L168.7 1400.4 M76.5 1428.9 L174.4 1357.2 M76.5 1339.2 L174.4 1396.3 M76.5 1322.9 L174.4 1359.6 M76.5 1318.8 L184.2 1358.8 L335.5 1406.8" fill="none" stroke="#dc1a24" stroke-width="1.45" stroke-linejoin="round"/><path d="M435.7 1229.7 L536.1 1301.5 L642.1 1374.1 M435.7 1251.7 L532.0 1342.3 M435.7 1272.9 L536.1 1296.6 L633.1 1330.8 M435.7 1282.7 L536.1 1299.8 L634.8 1343.9 M435.7 1300.7 L537.7 1276.2 M435.7 1298.2 L545.0 1272.9 M435.7 1423.0 L544.2 1279.4 L625.0 1387.9 M435.7 1393.7 L534.4 1299.8 L594.8 1294.1 L702.0 1390.1 M435.7 1312.9 L531.2 1345.5 L634.8 1272.9 M435.7 1423.8 L661.7 1292.5 M435.7 1312.9 L536.1 1320.2 M435.7 1316.2 L532.8 1445.9 M435.7 1329.2 L639.7 1418.9 M435.7 1330.8 L642.1 1405.9 M435.7 1332.5 L535.2 1405.1 M435.7 1352.1 L633.9 1352.9 M435.7 1361.0 L549.9 1349.6 M435.7 1371.6 L527.9 1405.9 L642.1 1405.9 M435.7 1371.6 L638.0 1337.4 M435.7 1378.2 L631.5 1379.0 M435.7 1386.3 L537.7 1373.3 M435.7 1394.5 L531.2 1384.7 L633.9 1334.1 M435.7 1401.0 L530.3 1397.7 M435.7 1405.1 L543.4 1433.6 L657.6 1326.8 M435.7 1437.7 L548.3 1350.4 M435.7 1477.7 L531.2 1384.7 L633.9 1339.0 M435.7 1329.2 L544.2 1353.7 L642.1 1418.1" fill="none" stroke="#dc1a24" stroke-width="1.45" stroke-linejoin="round"/><path d="M789.7 1231.3 L888.2 1239.5 L986.7 1289.6 M789.7 1259.9 L892.9 1305.2 L996.9 1379.5 M789.7 1268.2 L894.4 1310.7 L988.3 1323.2 M789.7 1279.4 L899.1 1286.4 M789.7 1283.8 L886.6 1276.3 M789.7 1300.5 L890.5 1267.7 M789.7 1313.0 L886.6 1287.2 L989.8 1252.1 M789.7 1313.0 L935.1 1316.2 L989.0 1299.0 M789.7 1320.8 L904.6 1361.5 M789.7 1326.3 L988.3 1324.0 M789.7 1321.6 L890.5 1380.3 L1014.0 1301.3 M789.7 1332.6 L889.8 1330.2 L992.2 1351.3 M789.7 1334.9 L949.2 1384.2 L1055.0 1405.0 M789.7 1335.7 L887.4 1384.2 M789.7 1342.7 L899.1 1405.3 L988.3 1400.6 M789.7 1349.8 L985.9 1358.4 M789.7 1354.5 L886.6 1363.8 M789.7 1363.1 L886.6 1443.6 M789.7 1364.6 L881.2 1446.7 L994.5 1450.6 M789.7 1381.0 L894.4 1392.0 L997.6 1410.0 M789.7 1388.9 L894.4 1392.0 L996.9 1379.5 M789.7 1398.2 L897.6 1404.5 L1012.5 1312.2 M789.7 1408.4 L891.3 1402.9 M789.7 1421.7 L886.6 1362.3 M789.7 1430.3 L897.6 1420.1 L992.9 1439.7 M789.7 1459.2 L891.3 1331.0 L988.3 1299.7 M789.7 1467.0 L878.8 1415.4 M789.7 1343.5 L880.4 1417.8 L992.9 1439.7" fill="none" stroke="#dc1a24" stroke-width="1.45" stroke-linejoin="round"/><path d="M1187.4 1231.8 L1271.7 1296.9 L1394.5 1426.3 M1187.4 1252.7 L1284.8 1448.4 M1187.4 1452.5 L1285.6 1269.1 L1387.9 1313.3 M1187.4 1432.8 L1297.1 1275.7 L1384.6 1302.7 M1187.4 1465.6 L1304.4 1292.9 L1395.3 1426.3 M1187.4 1274.8 L1297.9 1278.9 L1376.5 1306.0 M1187.4 1278.9 L1278.2 1298.6 L1386.3 1306.8 M1187.4 1294.5 L1304.4 1285.5 M1187.4 1299.4 L1288.1 1300.2 L1377.3 1319.9 M1187.4 1314.1 L1384.6 1302.7 M1187.4 1327.2 L1295.4 1436.1 L1410.8 1328.9 M1187.4 1319.1 L1297.9 1324.0 M1187.4 1326.4 L1286.4 1333.0 M1187.4 1396.0 L1291.3 1329.7 L1386.3 1302.7 M1187.4 1341.2 L1293.0 1342.0 L1385.5 1334.6 M1187.4 1344.4 L1294.9 1435.9 L1399.9 1339.0 M1187.4 1334.6 L1401.0 1382.9 M1187.4 1351.0 L1394.5 1356.7 M1187.4 1359.2 L1386.3 1347.7 M1187.4 1364.1 L1389.6 1370.6 M1187.4 1368.2 L1296.2 1380.4 M1187.4 1373.9 L1287.2 1406.6 M1187.4 1377.2 L1388.7 1320.7 M1187.4 1383.7 L1388.7 1384.5 M1187.4 1390.3 L1286.4 1423.0 L1337.2 1396.8 L1389.6 1370.6 M1187.4 1396.0 L1281.5 1399.3 M1187.4 1403.4 L1384.6 1359.2 M1187.4 1416.5 L1388.7 1334.6 M1187.4 1427.1 L1294.6 1416.5 L1389.6 1373.9 M1187.4 1440.2 L1289.7 1423.0 L1387.9 1387.0 M1187.4 1478.7 L1294.6 1383.7 L1384.6 1360.8 M1187.4 1489.3 L1384.6 1320.7 M1187.4 1500.0 L1293.0 1382.1 L1385.5 1334.6 M1187.4 1332.1 L1286.4 1328.1 M1187.4 1354.3 L1288.1 1351.0 L1385.5 1364.1 M1187.4 1337.9 L1284.8 1377.2 L1392.8 1419.7 M1187.4 1347.7 L1288.1 1357.5 L1386.3 1346.1 M1188.2 1452.6 L1288.0 1262.0 L1386.0 1300.0 M1188.2 1466.1 L1288.0 1400.0 L1386.0 1360.0 M1188.2 1473.6 L1290.0 1395.0 L1390.0 1330.0" fill="none" stroke="#dc1a24" stroke-width="1.45" stroke-linejoin="round"/><path d="M64.5 47.6V343.5H357.6" fill="none" stroke="#000" stroke-width="2.2" stroke-linecap="square"/><line x1="61.0" y1="257.7" x2="64.5" y2="257.7" stroke="#000" stroke-width="1.6"/><text x="57.5" y="261.4" font-size="21" text-anchor="end" fill="#111">1.0</text><line x1="61.0" y1="140.6" x2="64.5" y2="140.6" stroke="#000" stroke-width="1.6"/><text x="57.5" y="144.3" font-size="21" text-anchor="end" fill="#111">1.1</text><line x1="77.6" y1="343.5" x2="77.6" y2="347.0" stroke="#000" stroke-width="1.6"/><text x="77.6" y="370.1" font-size="21.8" text-anchor="middle" fill="#111">0</text><line x1="144.1" y1="343.5" x2="144.1" y2="347.0" stroke="#000" stroke-width="1.6"/><text x="144.1" y="370.1" font-size="21.8" text-anchor="middle" fill="#111">1</text><line x1="210.6" y1="343.5" x2="210.6" y2="347.0" stroke="#000" stroke-width="1.6"/><text x="210.6" y="370.1" font-size="21.8" text-anchor="middle" fill="#111">2</text><line x1="277.1" y1="343.5" x2="277.1" y2="347.0" stroke="#000" stroke-width="1.6"/><text x="277.1" y="370.1" font-size="21.8" text-anchor="middle" fill="#111">3</text><line x1="343.6" y1="343.5" x2="343.6" y2="347.0" stroke="#000" stroke-width="1.6"/><text x="343.6" y="370.1" font-size="21.8" text-anchor="middle" fill="#111">4</text><text transform="translate(21.7,325.5) rotate(-90)" font-size="23" textLength="249.4" lengthAdjust="spacingAndGlyphs" fill="#111">predicted RSFC in DMN</text><path d="M423.0 47.6V343.5H710.0" fill="none" stroke="#000" stroke-width="2.2" stroke-linecap="square"/><line x1="419.5" y1="304.1" x2="423.0" y2="304.1" stroke="#000" stroke-width="1.6"/><text x="416.0" y="307.8" font-size="21" text-anchor="end" fill="#111">0.9</text><line x1="419.5" y1="204.2" x2="423.0" y2="204.2" stroke="#000" stroke-width="1.6"/><text x="416.0" y="207.9" font-size="21" text-anchor="end" fill="#111">1.0</text><line x1="419.5" y1="103.6" x2="423.0" y2="103.6" stroke="#000" stroke-width="1.6"/><text x="416.0" y="107.3" font-size="21" text-anchor="end" fill="#111">1.1</text><line x1="436.5" y1="343.5" x2="436.5" y2="347.0" stroke="#000" stroke-width="1.6"/><text x="436.5" y="370.1" font-size="21.8" text-anchor="middle" fill="#111">0</text><line x1="501.5" y1="343.5" x2="501.5" y2="347.0" stroke="#000" stroke-width="1.6"/><text x="501.5" y="370.1" font-size="21.8" text-anchor="middle" fill="#111">1</text><line x1="566.5" y1="343.5" x2="566.5" y2="347.0" stroke="#000" stroke-width="1.6"/><text x="566.5" y="370.1" font-size="21.8" text-anchor="middle" fill="#111">2</text><line x1="631.5" y1="343.5" x2="631.5" y2="347.0" stroke="#000" stroke-width="1.6"/><text x="631.5" y="370.1" font-size="21.8" text-anchor="middle" fill="#111">3</text><line x1="696.5" y1="343.5" x2="696.5" y2="347.0" stroke="#000" stroke-width="1.6"/><text x="696.5" y="370.1" font-size="21.8" text-anchor="middle" fill="#111">4</text><text transform="translate(380.5,342.1) rotate(-90)" font-size="23" textLength="283.8" lengthAdjust="spacingAndGlyphs" fill="#111">predicted RSFC in SAL/VAN</text><path d="M778.0 47.6V343.3H1070.0" fill="none" stroke="#000" stroke-width="2.2" stroke-linecap="square"/><line x1="774.5" y1="282.3" x2="778.0" y2="282.3" stroke="#000" stroke-width="1.6"/><text x="771.0" y="286.0" font-size="21" text-anchor="end" fill="#111">1.1</text><line x1="774.5" y1="196.0" x2="778.0" y2="196.0" stroke="#000" stroke-width="1.6"/><text x="771.0" y="199.7" font-size="21" text-anchor="end" fill="#111">1.2</text><line x1="774.5" y1="109.2" x2="778.0" y2="109.2" stroke="#000" stroke-width="1.6"/><text x="771.0" y="112.9" font-size="21" text-anchor="end" fill="#111">1.3</text><line x1="791.0" y1="343.3" x2="791.0" y2="346.8" stroke="#000" stroke-width="1.6"/><text x="791.0" y="369.9" font-size="21.8" text-anchor="middle" fill="#111">0</text><line x1="857.5" y1="343.3" x2="857.5" y2="346.8" stroke="#000" stroke-width="1.6"/><text x="857.5" y="369.9" font-size="21.8" text-anchor="middle" fill="#111">1</text><line x1="924.0" y1="343.3" x2="924.0" y2="346.8" stroke="#000" stroke-width="1.6"/><text x="924.0" y="369.9" font-size="21.8" text-anchor="middle" fill="#111">2</text><line x1="990.5" y1="343.3" x2="990.5" y2="346.8" stroke="#000" stroke-width="1.6"/><text x="990.5" y="369.9" font-size="21.8" text-anchor="middle" fill="#111">3</text><line x1="1057.0" y1="343.3" x2="1057.0" y2="346.8" stroke="#000" stroke-width="1.6"/><text x="1057.0" y="369.9" font-size="21.8" text-anchor="middle" fill="#111">4</text><text transform="translate(734.5,322.9) rotate(-90)" font-size="23" textLength="243.3" lengthAdjust="spacingAndGlyphs" fill="#111">predicted RSFC in FPN</text><path d="M1176.0 47.6V343.5H1468.6" fill="none" stroke="#000" stroke-width="2.2" stroke-linecap="square"/><line x1="1172.5" y1="322.5" x2="1176.0" y2="322.5" stroke="#000" stroke-width="1.6"/><text x="1169.0" y="326.2" font-size="21" text-anchor="end" fill="#111">0.9</text><line x1="1172.5" y1="245.0" x2="1176.0" y2="245.0" stroke="#000" stroke-width="1.6"/><text x="1169.0" y="248.7" font-size="21" text-anchor="end" fill="#111">1.0</text><line x1="1172.5" y1="166.9" x2="1176.0" y2="166.9" stroke="#000" stroke-width="1.6"/><text x="1169.0" y="170.6" font-size="21" text-anchor="end" fill="#111">1.1</text><line x1="1172.5" y1="89.4" x2="1176.0" y2="89.4" stroke="#000" stroke-width="1.6"/><text x="1169.0" y="93.1" font-size="21" text-anchor="end" fill="#111">1.2</text><line x1="1189.3" y1="343.5" x2="1189.3" y2="347.0" stroke="#000" stroke-width="1.6"/><text x="1189.3" y="370.1" font-size="21.8" text-anchor="middle" fill="#111">0</text><line x1="1255.8" y1="343.5" x2="1255.8" y2="347.0" stroke="#000" stroke-width="1.6"/><text x="1255.8" y="370.1" font-size="21.8" text-anchor="middle" fill="#111">1</text><line x1="1322.4" y1="343.5" x2="1322.4" y2="347.0" stroke="#000" stroke-width="1.6"/><text x="1322.4" y="370.1" font-size="21.8" text-anchor="middle" fill="#111">2</text><line x1="1388.9" y1="343.5" x2="1388.9" y2="347.0" stroke="#000" stroke-width="1.6"/><text x="1388.9" y="370.1" font-size="21.8" text-anchor="middle" fill="#111">3</text><line x1="1455.5" y1="343.5" x2="1455.5" y2="347.0" stroke="#000" stroke-width="1.6"/><text x="1455.5" y="370.1" font-size="21.8" text-anchor="middle" fill="#111">4</text><text transform="translate(1132.7,341.5) rotate(-90)" font-size="23" textLength="282.8" lengthAdjust="spacingAndGlyphs" fill="#111">predicted RSFC in SAL/VAN</text><path d="M64.8 423.2V717.8H352.2" fill="none" stroke="#000" stroke-width="2.2" stroke-linecap="square"/><line x1="61.3" y1="697.4" x2="64.8" y2="697.4" stroke="#000" stroke-width="1.6"/><text x="57.8" y="701.1" font-size="21" text-anchor="end" fill="#111">0.5</text><line x1="61.3" y1="569.4" x2="64.8" y2="569.4" stroke="#000" stroke-width="1.6"/><text x="57.8" y="573.1" font-size="21" text-anchor="end" fill="#111">1.0</text><line x1="61.3" y1="442.1" x2="64.8" y2="442.1" stroke="#000" stroke-width="1.6"/><text x="57.8" y="445.8" font-size="21" text-anchor="end" fill="#111">1.5</text><line x1="77.4" y1="717.8" x2="77.4" y2="721.3" stroke="#000" stroke-width="1.6"/><text x="77.4" y="744.4" font-size="21.8" text-anchor="middle" fill="#111">0</text><line x1="142.2" y1="717.8" x2="142.2" y2="721.3" stroke="#000" stroke-width="1.6"/><text x="142.2" y="744.4" font-size="21.8" text-anchor="middle" fill="#111">1</text><line x1="207.1" y1="717.8" x2="207.1" y2="721.3" stroke="#000" stroke-width="1.6"/><text x="207.1" y="744.4" font-size="21.8" text-anchor="middle" fill="#111">2</text><line x1="271.9" y1="717.8" x2="271.9" y2="721.3" stroke="#000" stroke-width="1.6"/><text x="271.9" y="744.4" font-size="21.8" text-anchor="middle" fill="#111">3</text><line x1="336.8" y1="717.8" x2="336.8" y2="721.3" stroke="#000" stroke-width="1.6"/><text x="336.8" y="744.4" font-size="21.8" text-anchor="middle" fill="#111">4</text><text x="197.1" y="772.3" font-size="20" text-anchor="middle" fill="#111">years from baseline</text><text transform="translate(21.7,710.9) rotate(-90)" font-size="23" textLength="294.4" lengthAdjust="spacingAndGlyphs" fill="#111">raw individual RSFC in DMN</text><path d="M423.4 421.5V715.7H716.1" fill="none" stroke="#000" stroke-width="2.2" stroke-linecap="square"/><line x1="419.9" y1="701.0" x2="423.4" y2="701.0" stroke="#000" stroke-width="1.6"/><text x="416.4" y="704.7" font-size="21" text-anchor="end" fill="#111">0.4</text><line x1="419.9" y1="609.3" x2="423.4" y2="609.3" stroke="#000" stroke-width="1.6"/><text x="416.4" y="613.0" font-size="21" text-anchor="end" fill="#111">0.8</text><line x1="419.9" y1="517.5" x2="423.4" y2="517.5" stroke="#000" stroke-width="1.6"/><text x="416.4" y="521.2" font-size="21" text-anchor="end" fill="#111">1.2</text><line x1="419.9" y1="425.7" x2="423.4" y2="425.7" stroke="#000" stroke-width="1.6"/><text x="416.4" y="429.4" font-size="21" text-anchor="end" fill="#111">1.6</text><line x1="436.4" y1="715.7" x2="436.4" y2="719.2" stroke="#000" stroke-width="1.6"/><text x="436.4" y="742.3" font-size="21.8" text-anchor="middle" fill="#111">0</text><line x1="502.6" y1="715.7" x2="502.6" y2="719.2" stroke="#000" stroke-width="1.6"/><text x="502.6" y="742.3" font-size="21.8" text-anchor="middle" fill="#111">1</text><line x1="568.9" y1="715.7" x2="568.9" y2="719.2" stroke="#000" stroke-width="1.6"/><text x="568.9" y="742.3" font-size="21.8" text-anchor="middle" fill="#111">2</text><line x1="635.1" y1="715.7" x2="635.1" y2="719.2" stroke="#000" stroke-width="1.6"/><text x="635.1" y="742.3" font-size="21.8" text-anchor="middle" fill="#111">3</text><line x1="701.4" y1="715.7" x2="701.4" y2="719.2" stroke="#000" stroke-width="1.6"/><text x="701.4" y="742.3" font-size="21.8" text-anchor="middle" fill="#111">4</text><text x="558.9" y="770.2" font-size="20" text-anchor="middle" fill="#111">years from baseline</text><text transform="translate(380.5,725.8) rotate(-90)" font-size="23" textLength="327.3" lengthAdjust="spacingAndGlyphs" fill="#111">raw individual RSFC in SAL/VAN</text><path d="M778.0 423.2V717.7H1070.0" fill="none" stroke="#000" stroke-width="2.2" stroke-linecap="square"/><line x1="774.5" y1="715.7" x2="778.0" y2="715.7" stroke="#000" stroke-width="1.6"/><text x="771.0" y="719.4" font-size="21" text-anchor="end" fill="#111">0.4</text><line x1="774.5" y1="636.9" x2="778.0" y2="636.9" stroke="#000" stroke-width="1.6"/><text x="771.0" y="640.6" font-size="21" text-anchor="end" fill="#111">0.8</text><line x1="774.5" y1="557.9" x2="778.0" y2="557.9" stroke="#000" stroke-width="1.6"/><text x="771.0" y="561.6" font-size="21" text-anchor="end" fill="#111">1.2</text><line x1="774.5" y1="478.3" x2="778.0" y2="478.3" stroke="#000" stroke-width="1.6"/><text x="771.0" y="482.0" font-size="21" text-anchor="end" fill="#111">1.6</text><line x1="790.8" y1="717.7" x2="790.8" y2="721.2" stroke="#000" stroke-width="1.6"/><text x="790.8" y="744.3" font-size="21.8" text-anchor="middle" fill="#111">0</text><line x1="857.0" y1="717.7" x2="857.0" y2="721.2" stroke="#000" stroke-width="1.6"/><text x="857.0" y="744.3" font-size="21.8" text-anchor="middle" fill="#111">1</text><line x1="923.2" y1="717.7" x2="923.2" y2="721.2" stroke="#000" stroke-width="1.6"/><text x="923.2" y="744.3" font-size="21.8" text-anchor="middle" fill="#111">2</text><line x1="989.4" y1="717.7" x2="989.4" y2="721.2" stroke="#000" stroke-width="1.6"/><text x="989.4" y="744.3" font-size="21.8" text-anchor="middle" fill="#111">3</text><line x1="1055.6" y1="717.7" x2="1055.6" y2="721.2" stroke="#000" stroke-width="1.6"/><text x="1055.6" y="744.3" font-size="21.8" text-anchor="middle" fill="#111">4</text><text x="913.2" y="772.2" font-size="20" text-anchor="middle" fill="#111">years from baseline</text><text transform="translate(734.5,708.1) rotate(-90)" font-size="23" textLength="287.3" lengthAdjust="spacingAndGlyphs" fill="#111">raw individual RSFC in FPN</text><path d="M1175.9 423.2V717.7H1468.3" fill="none" stroke="#000" stroke-width="2.2" stroke-linecap="square"/><line x1="1172.4" y1="703.5" x2="1175.9" y2="703.5" stroke="#000" stroke-width="1.6"/><text x="1168.9" y="707.2" font-size="21" text-anchor="end" fill="#111">0.4</text><line x1="1172.4" y1="611.7" x2="1175.9" y2="611.7" stroke="#000" stroke-width="1.6"/><text x="1168.9" y="615.4" font-size="21" text-anchor="end" fill="#111">0.8</text><line x1="1172.4" y1="519.4" x2="1175.9" y2="519.4" stroke="#000" stroke-width="1.6"/><text x="1168.9" y="523.1" font-size="21" text-anchor="end" fill="#111">1.2</text><line x1="1172.4" y1="426.9" x2="1175.9" y2="426.9" stroke="#000" stroke-width="1.6"/><text x="1168.9" y="430.6" font-size="21" text-anchor="end" fill="#111">1.6</text><line x1="1188.8" y1="717.7" x2="1188.8" y2="721.2" stroke="#000" stroke-width="1.6"/><text x="1188.8" y="744.3" font-size="21.8" text-anchor="middle" fill="#111">0</text><line x1="1255.1" y1="717.7" x2="1255.1" y2="721.2" stroke="#000" stroke-width="1.6"/><text x="1255.1" y="744.3" font-size="21.8" text-anchor="middle" fill="#111">1</text><line x1="1321.4" y1="717.7" x2="1321.4" y2="721.2" stroke="#000" stroke-width="1.6"/><text x="1321.4" y="744.3" font-size="21.8" text-anchor="middle" fill="#111">2</text><line x1="1387.7" y1="717.7" x2="1387.7" y2="721.2" stroke="#000" stroke-width="1.6"/><text x="1387.7" y="744.3" font-size="21.8" text-anchor="middle" fill="#111">3</text><line x1="1454.0" y1="717.7" x2="1454.0" y2="721.2" stroke="#000" stroke-width="1.6"/><text x="1454.0" y="744.3" font-size="21.8" text-anchor="middle" fill="#111">4</text><text x="1311.4" y="772.2" font-size="20" text-anchor="middle" fill="#111">years from baseline</text><text transform="translate(1132.7,726.5) rotate(-90)" font-size="23" textLength="327.3" lengthAdjust="spacingAndGlyphs" fill="#111">raw individual RSFC in SAL/VAN</text><path d="M64.3 819.9V1115.0H350.5" fill="none" stroke="#000" stroke-width="2.2" stroke-linecap="square"/><line x1="60.8" y1="1094.0" x2="64.3" y2="1094.0" stroke="#000" stroke-width="1.6"/><text x="57.3" y="1097.7" font-size="21" text-anchor="end" fill="#111">0.5</text><line x1="60.8" y1="966.7" x2="64.3" y2="966.7" stroke="#000" stroke-width="1.6"/><text x="57.3" y="970.4" font-size="21" text-anchor="end" fill="#111">1.0</text><line x1="60.8" y1="839.7" x2="64.3" y2="839.7" stroke="#000" stroke-width="1.6"/><text x="57.3" y="843.4" font-size="21" text-anchor="end" fill="#111">1.5</text><line x1="76.4" y1="1115.0" x2="76.4" y2="1118.5" stroke="#000" stroke-width="1.6"/><text x="76.4" y="1141.6" font-size="21.8" text-anchor="middle" fill="#111">0</text><line x1="141.1" y1="1115.0" x2="141.1" y2="1118.5" stroke="#000" stroke-width="1.6"/><text x="141.1" y="1141.6" font-size="21.8" text-anchor="middle" fill="#111">1</text><line x1="205.8" y1="1115.0" x2="205.8" y2="1118.5" stroke="#000" stroke-width="1.6"/><text x="205.8" y="1141.6" font-size="21.8" text-anchor="middle" fill="#111">2</text><line x1="270.5" y1="1115.0" x2="270.5" y2="1118.5" stroke="#000" stroke-width="1.6"/><text x="270.5" y="1141.6" font-size="21.8" text-anchor="middle" fill="#111">3</text><line x1="335.2" y1="1115.0" x2="335.2" y2="1118.5" stroke="#000" stroke-width="1.6"/><text x="335.2" y="1141.6" font-size="21.8" text-anchor="middle" fill="#111">4</text><text x="195.8" y="1169.5" font-size="20" text-anchor="middle" fill="#111">years from baseline</text><text transform="translate(21.7,1107.7) rotate(-90)" font-size="23" textLength="294.4" lengthAdjust="spacingAndGlyphs" fill="#111">raw individual RSFC in DMN</text><path d="M422.9 818.1V1113.0H714.9" fill="none" stroke="#000" stroke-width="2.2" stroke-linecap="square"/><line x1="419.4" y1="1097.9" x2="422.9" y2="1097.9" stroke="#000" stroke-width="1.6"/><text x="415.9" y="1101.6" font-size="21" text-anchor="end" fill="#111">0.4</text><line x1="419.4" y1="1006.6" x2="422.9" y2="1006.6" stroke="#000" stroke-width="1.6"/><text x="415.9" y="1010.3" font-size="21" text-anchor="end" fill="#111">0.8</text><line x1="419.4" y1="914.8" x2="422.9" y2="914.8" stroke="#000" stroke-width="1.6"/><text x="415.9" y="918.5" font-size="21" text-anchor="end" fill="#111">1.2</text><line x1="419.4" y1="823.0" x2="422.9" y2="823.0" stroke="#000" stroke-width="1.6"/><text x="415.9" y="826.7" font-size="21" text-anchor="end" fill="#111">1.6</text><line x1="435.4" y1="1113.0" x2="435.4" y2="1116.5" stroke="#000" stroke-width="1.6"/><text x="435.4" y="1139.6" font-size="21.8" text-anchor="middle" fill="#111">0</text><line x1="501.6" y1="1113.0" x2="501.6" y2="1116.5" stroke="#000" stroke-width="1.6"/><text x="501.6" y="1139.6" font-size="21.8" text-anchor="middle" fill="#111">1</text><line x1="567.8" y1="1113.0" x2="567.8" y2="1116.5" stroke="#000" stroke-width="1.6"/><text x="567.8" y="1139.6" font-size="21.8" text-anchor="middle" fill="#111">2</text><line x1="634.0" y1="1113.0" x2="634.0" y2="1116.5" stroke="#000" stroke-width="1.6"/><text x="634.0" y="1139.6" font-size="21.8" text-anchor="middle" fill="#111">3</text><line x1="700.2" y1="1113.0" x2="700.2" y2="1116.5" stroke="#000" stroke-width="1.6"/><text x="700.2" y="1139.6" font-size="21.8" text-anchor="middle" fill="#111">4</text><text x="557.8" y="1167.5" font-size="20" text-anchor="middle" fill="#111">years from baseline</text><text transform="translate(380.5,1122.7) rotate(-90)" font-size="23" textLength="327.3" lengthAdjust="spacingAndGlyphs" fill="#111">raw individual RSFC in SAL/VAN</text><path d="M776.6 819.9V1114.3H1070.0" fill="none" stroke="#000" stroke-width="2.2" stroke-linecap="square"/><line x1="773.1" y1="1112.6" x2="776.6" y2="1112.6" stroke="#000" stroke-width="1.6"/><text x="769.6" y="1116.3" font-size="21" text-anchor="end" fill="#111">0.4</text><line x1="773.1" y1="1033.5" x2="776.6" y2="1033.5" stroke="#000" stroke-width="1.6"/><text x="769.6" y="1037.2" font-size="21" text-anchor="end" fill="#111">0.8</text><line x1="773.1" y1="954.5" x2="776.6" y2="954.5" stroke="#000" stroke-width="1.6"/><text x="769.6" y="958.2" font-size="21" text-anchor="end" fill="#111">1.2</text><line x1="773.1" y1="875.2" x2="776.6" y2="875.2" stroke="#000" stroke-width="1.6"/><text x="769.6" y="878.9" font-size="21" text-anchor="end" fill="#111">1.6</text><line x1="789.5" y1="1114.3" x2="789.5" y2="1117.8" stroke="#000" stroke-width="1.6"/><text x="789.5" y="1140.9" font-size="21.8" text-anchor="middle" fill="#111">0</text><line x1="855.6" y1="1114.3" x2="855.6" y2="1117.8" stroke="#000" stroke-width="1.6"/><text x="855.6" y="1140.9" font-size="21.8" text-anchor="middle" fill="#111">1</text><line x1="921.7" y1="1114.3" x2="921.7" y2="1117.8" stroke="#000" stroke-width="1.6"/><text x="921.7" y="1140.9" font-size="21.8" text-anchor="middle" fill="#111">2</text><line x1="987.8" y1="1114.3" x2="987.8" y2="1117.8" stroke="#000" stroke-width="1.6"/><text x="987.8" y="1140.9" font-size="21.8" text-anchor="middle" fill="#111">3</text><line x1="1053.9" y1="1114.3" x2="1053.9" y2="1117.8" stroke="#000" stroke-width="1.6"/><text x="1053.9" y="1140.9" font-size="21.8" text-anchor="middle" fill="#111">4</text><text x="911.7" y="1168.8" font-size="20" text-anchor="middle" fill="#111">years from baseline</text><text transform="translate(734.5,1104.7) rotate(-90)" font-size="23" textLength="287.3" lengthAdjust="spacingAndGlyphs" fill="#111">raw individual RSFC in FPN</text><path d="M1175.1 819.9V1115.0H1467.1" fill="none" stroke="#000" stroke-width="2.2" stroke-linecap="square"/><line x1="1171.6" y1="1100.3" x2="1175.1" y2="1100.3" stroke="#000" stroke-width="1.6"/><text x="1168.1" y="1104.0" font-size="21" text-anchor="end" fill="#111">0.4</text><line x1="1171.6" y1="1008.3" x2="1175.1" y2="1008.3" stroke="#000" stroke-width="1.6"/><text x="1168.1" y="1012.0" font-size="21" text-anchor="end" fill="#111">0.8</text><line x1="1171.6" y1="916.5" x2="1175.1" y2="916.5" stroke="#000" stroke-width="1.6"/><text x="1168.1" y="920.2" font-size="21" text-anchor="end" fill="#111">1.2</text><line x1="1171.6" y1="824.8" x2="1175.1" y2="824.8" stroke="#000" stroke-width="1.6"/><text x="1168.1" y="828.5" font-size="21" text-anchor="end" fill="#111">1.6</text><line x1="1188.1" y1="1115.0" x2="1188.1" y2="1118.5" stroke="#000" stroke-width="1.6"/><text x="1188.1" y="1141.6" font-size="21.8" text-anchor="middle" fill="#111">0</text><line x1="1254.3" y1="1115.0" x2="1254.3" y2="1118.5" stroke="#000" stroke-width="1.6"/><text x="1254.3" y="1141.6" font-size="21.8" text-anchor="middle" fill="#111">1</text><line x1="1320.5" y1="1115.0" x2="1320.5" y2="1118.5" stroke="#000" stroke-width="1.6"/><text x="1320.5" y="1141.6" font-size="21.8" text-anchor="middle" fill="#111">2</text><line x1="1386.7" y1="1115.0" x2="1386.7" y2="1118.5" stroke="#000" stroke-width="1.6"/><text x="1386.7" y="1141.6" font-size="21.8" text-anchor="middle" fill="#111">3</text><line x1="1452.9" y1="1115.0" x2="1452.9" y2="1118.5" stroke="#000" stroke-width="1.6"/><text x="1452.9" y="1141.6" font-size="21.8" text-anchor="middle" fill="#111">4</text><text x="1310.5" y="1169.5" font-size="20" text-anchor="middle" fill="#111">years from baseline</text><text transform="translate(1132.7,1124.0) rotate(-90)" font-size="23" textLength="327.3" lengthAdjust="spacingAndGlyphs" fill="#111">raw individual RSFC in SAL/VAN</text><path d="M64.3 1218.9V1514.3H350.5" fill="none" stroke="#000" stroke-width="2.2" stroke-linecap="square"/><line x1="60.8" y1="1493.5" x2="64.3" y2="1493.5" stroke="#000" stroke-width="1.6"/><text x="57.3" y="1497.2" font-size="21" text-anchor="end" fill="#111">0.5</text><line x1="60.8" y1="1366.2" x2="64.3" y2="1366.2" stroke="#000" stroke-width="1.6"/><text x="57.3" y="1369.9" font-size="21" text-anchor="end" fill="#111">1.0</text><line x1="60.8" y1="1238.5" x2="64.3" y2="1238.5" stroke="#000" stroke-width="1.6"/><text x="57.3" y="1242.2" font-size="21" text-anchor="end" fill="#111">1.5</text><line x1="76.4" y1="1514.3" x2="76.4" y2="1517.8" stroke="#000" stroke-width="1.6"/><text x="76.4" y="1540.9" font-size="21.8" text-anchor="middle" fill="#111">0</text><line x1="141.2" y1="1514.3" x2="141.2" y2="1517.8" stroke="#000" stroke-width="1.6"/><text x="141.2" y="1540.9" font-size="21.8" text-anchor="middle" fill="#111">1</text><line x1="206.0" y1="1514.3" x2="206.0" y2="1517.8" stroke="#000" stroke-width="1.6"/><text x="206.0" y="1540.9" font-size="21.8" text-anchor="middle" fill="#111">2</text><line x1="270.8" y1="1514.3" x2="270.8" y2="1517.8" stroke="#000" stroke-width="1.6"/><text x="270.8" y="1540.9" font-size="21.8" text-anchor="middle" fill="#111">3</text><line x1="335.6" y1="1514.3" x2="335.6" y2="1517.8" stroke="#000" stroke-width="1.6"/><text x="335.6" y="1540.9" font-size="21.8" text-anchor="middle" fill="#111">4</text><text x="196.0" y="1568.8" font-size="20" text-anchor="middle" fill="#111">years from baseline</text><text transform="translate(21.7,1506.8) rotate(-90)" font-size="23" textLength="294.4" lengthAdjust="spacingAndGlyphs" fill="#111">raw individual RSFC in DMN</text><path d="M422.9 1217.4V1512.6H714.9" fill="none" stroke="#000" stroke-width="2.2" stroke-linecap="square"/><line x1="419.4" y1="1497.6" x2="422.9" y2="1497.6" stroke="#000" stroke-width="1.6"/><text x="415.9" y="1501.3" font-size="21" text-anchor="end" fill="#111">0.4</text><line x1="419.4" y1="1405.9" x2="422.9" y2="1405.9" stroke="#000" stroke-width="1.6"/><text x="415.9" y="1409.6" font-size="21" text-anchor="end" fill="#111">0.8</text><line x1="419.4" y1="1314.1" x2="422.9" y2="1314.1" stroke="#000" stroke-width="1.6"/><text x="415.9" y="1317.8" font-size="21" text-anchor="end" fill="#111">1.2</text><line x1="419.4" y1="1221.8" x2="422.9" y2="1221.8" stroke="#000" stroke-width="1.6"/><text x="415.9" y="1225.5" font-size="21" text-anchor="end" fill="#111">1.6</text><line x1="435.4" y1="1512.6" x2="435.4" y2="1516.1" stroke="#000" stroke-width="1.6"/><text x="435.4" y="1539.2" font-size="21.8" text-anchor="middle" fill="#111">0</text><line x1="501.6" y1="1512.6" x2="501.6" y2="1516.1" stroke="#000" stroke-width="1.6"/><text x="501.6" y="1539.2" font-size="21.8" text-anchor="middle" fill="#111">1</text><line x1="567.8" y1="1512.6" x2="567.8" y2="1516.1" stroke="#000" stroke-width="1.6"/><text x="567.8" y="1539.2" font-size="21.8" text-anchor="middle" fill="#111">2</text><line x1="634.0" y1="1512.6" x2="634.0" y2="1516.1" stroke="#000" stroke-width="1.6"/><text x="634.0" y="1539.2" font-size="21.8" text-anchor="middle" fill="#111">3</text><line x1="700.2" y1="1512.6" x2="700.2" y2="1516.1" stroke="#000" stroke-width="1.6"/><text x="700.2" y="1539.2" font-size="21.8" text-anchor="middle" fill="#111">4</text><text x="557.8" y="1567.1" font-size="20" text-anchor="middle" fill="#111">years from baseline</text><text transform="translate(380.5,1522.2) rotate(-90)" font-size="23" textLength="327.3" lengthAdjust="spacingAndGlyphs" fill="#111">raw individual RSFC in SAL/VAN</text><path d="M776.6 1218.9V1513.5H1070.0" fill="none" stroke="#000" stroke-width="2.2" stroke-linecap="square"/><line x1="773.1" y1="1512.6" x2="776.6" y2="1512.6" stroke="#000" stroke-width="1.6"/><text x="769.6" y="1516.3" font-size="21" text-anchor="end" fill="#111">0.4</text><line x1="773.1" y1="1433.5" x2="776.6" y2="1433.5" stroke="#000" stroke-width="1.6"/><text x="769.6" y="1437.2" font-size="21" text-anchor="end" fill="#111">0.8</text><line x1="773.1" y1="1354.0" x2="776.6" y2="1354.0" stroke="#000" stroke-width="1.6"/><text x="769.6" y="1357.7" font-size="21" text-anchor="end" fill="#111">1.2</text><line x1="773.1" y1="1274.4" x2="776.6" y2="1274.4" stroke="#000" stroke-width="1.6"/><text x="769.6" y="1278.1" font-size="21" text-anchor="end" fill="#111">1.6</text><line x1="789.5" y1="1513.5" x2="789.5" y2="1517.0" stroke="#000" stroke-width="1.6"/><text x="789.5" y="1540.1" font-size="21.8" text-anchor="middle" fill="#111">0</text><line x1="855.6" y1="1513.5" x2="855.6" y2="1517.0" stroke="#000" stroke-width="1.6"/><text x="855.6" y="1540.1" font-size="21.8" text-anchor="middle" fill="#111">1</text><line x1="921.7" y1="1513.5" x2="921.7" y2="1517.0" stroke="#000" stroke-width="1.6"/><text x="921.7" y="1540.1" font-size="21.8" text-anchor="middle" fill="#111">2</text><line x1="987.8" y1="1513.5" x2="987.8" y2="1517.0" stroke="#000" stroke-width="1.6"/><text x="987.8" y="1540.1" font-size="21.8" text-anchor="middle" fill="#111">3</text><line x1="1053.9" y1="1513.5" x2="1053.9" y2="1517.0" stroke="#000" stroke-width="1.6"/><text x="1053.9" y="1540.1" font-size="21.8" text-anchor="middle" fill="#111">4</text><text x="911.7" y="1568.0" font-size="20" text-anchor="middle" fill="#111">years from baseline</text><text transform="translate(734.5,1503.8) rotate(-90)" font-size="23" textLength="287.3" lengthAdjust="spacingAndGlyphs" fill="#111">raw individual RSFC in FPN</text><path d="M1175.1 1218.9V1514.3H1467.1" fill="none" stroke="#000" stroke-width="2.2" stroke-linecap="square"/><line x1="1171.6" y1="1500.1" x2="1175.1" y2="1500.1" stroke="#000" stroke-width="1.6"/><text x="1168.1" y="1503.8" font-size="21" text-anchor="end" fill="#111">0.4</text><line x1="1171.6" y1="1408.3" x2="1175.1" y2="1408.3" stroke="#000" stroke-width="1.6"/><text x="1168.1" y="1412.0" font-size="21" text-anchor="end" fill="#111">0.8</text><line x1="1171.6" y1="1316.5" x2="1175.1" y2="1316.5" stroke="#000" stroke-width="1.6"/><text x="1168.1" y="1320.2" font-size="21" text-anchor="end" fill="#111">1.2</text><line x1="1171.6" y1="1224.3" x2="1175.1" y2="1224.3" stroke="#000" stroke-width="1.6"/><text x="1168.1" y="1228.0" font-size="21" text-anchor="end" fill="#111">1.6</text><line x1="1188.1" y1="1514.3" x2="1188.1" y2="1517.8" stroke="#000" stroke-width="1.6"/><text x="1188.1" y="1540.9" font-size="21.8" text-anchor="middle" fill="#111">0</text><line x1="1254.3" y1="1514.3" x2="1254.3" y2="1517.8" stroke="#000" stroke-width="1.6"/><text x="1254.3" y="1540.9" font-size="21.8" text-anchor="middle" fill="#111">1</text><line x1="1320.5" y1="1514.3" x2="1320.5" y2="1517.8" stroke="#000" stroke-width="1.6"/><text x="1320.5" y="1540.9" font-size="21.8" text-anchor="middle" fill="#111">2</text><line x1="1386.7" y1="1514.3" x2="1386.7" y2="1517.8" stroke="#000" stroke-width="1.6"/><text x="1386.7" y="1540.9" font-size="21.8" text-anchor="middle" fill="#111">3</text><line x1="1452.9" y1="1514.3" x2="1452.9" y2="1517.8" stroke="#000" stroke-width="1.6"/><text x="1452.9" y="1540.9" font-size="21.8" text-anchor="middle" fill="#111">4</text><text x="1310.5" y="1568.8" font-size="20" text-anchor="middle" fill="#111">years from baseline</text><text transform="translate(1132.7,1523.0) rotate(-90)" font-size="23" textLength="327.3" lengthAdjust="spacingAndGlyphs" fill="#111">raw individual RSFC in SAL/VAN</text><text x="330.2" y="71.2" font-size="26" text-anchor="middle" font-weight="bold" fill="#111">*</text><text x="695.4" y="71.2" font-size="26" text-anchor="middle" font-weight="bold" fill="#111">*</text><text x="1056.6" y="71.4" font-size="26" text-anchor="middle" font-weight="bold" fill="#111">*</text><text x="1433.1" y="71.1" font-size="26" text-anchor="middle" font-weight="bold" fill="#111">*</text><path d="M181.4 394 L236.9 394 L209.2 408.5Z" fill="#000"/><path d="M540.3 394 L594.3 394 L567.3 408.5Z" fill="#000"/><path d="M897.5 394 L951.9 394 L924.7 408.5Z" fill="#000"/><path d="M1297.2 394 L1351.6 394 L1324.4 408.5Z" fill="#000"/><text x="3" y="22" font-size="26.5" font-weight="bold" fill="#000">A</text><text x="37.5" y="22" font-size="26.5" font-weight="bold" fill="#000" textLength="310" lengthAdjust="spacingAndGlyphs">diastolic blood pressure</text><text x="1111" y="22" font-size="26.5" font-weight="bold" fill="#000">B</text><text x="1147.8" y="22" font-size="26.5" font-weight="bold" fill="#000" textLength="86.5" lengthAdjust="spacingAndGlyphs">HbA1c</text><text x="36.3" y="1640" font-size="23" font-weight="bold" fill="#000" textLength="431.5" lengthAdjust="spacingAndGlyphs">diastolic blood pressure tertile groups:</text><rect x="46" y="1651.5" width="32" height="31" fill="#2f4fc0" fill-opacity="0.5"/><line x1="49.5" y1="1667.0" x2="74.5" y2="1667.0" stroke="#1034d0" stroke-width="4.5"/><text x="85" y="1674" font-size="20" fill="#111">low</text><text x="216" y="1674" font-size="20" fill="#111">&lt; 74.2 mmHG, n=32</text><rect x="46" y="1694.7" width="32" height="31" fill="#f19225" fill-opacity="0.5"/><line x1="49.5" y1="1710.2" x2="74.5" y2="1710.2" stroke="#ff8500" stroke-width="4.5"/><text x="88.5" y="1716.4" font-size="20" fill="#111">medium</text><text x="216" y="1716.4" font-size="20" fill="#111">74.2 - 85.1 mmHG, n=31</text><rect x="46" y="1737.2" width="32" height="31" fill="#de2131" fill-opacity="0.5"/><line x1="49.5" y1="1752.7" x2="74.5" y2="1752.7" stroke="#e00012" stroke-width="4.5"/><text x="86" y="1759" font-size="20" fill="#111">high</text><text x="216" y="1759" font-size="20" fill="#111">&gt; 85.1 mmHG, n=32</text><text x="1132" y="1640" font-size="23" font-weight="bold" fill="#000" textLength="235.5" lengthAdjust="spacingAndGlyphs">HbA1c tertile groups:</text><rect x="1142" y="1651.5" width="32" height="31" fill="#2f4fc0" fill-opacity="0.5"/><line x1="1145.5" y1="1667.0" x2="1170.5" y2="1667.0" stroke="#1034d0" stroke-width="4.5"/><text x="1181" y="1674" font-size="20" fill="#111">low</text><text x="1311.5" y="1674" font-size="20" fill="#111">&lt; 5.5 %, n=18</text><rect x="1142" y="1694.7" width="32" height="31" fill="#f19225" fill-opacity="0.5"/><line x1="1145.5" y1="1710.2" x2="1170.5" y2="1710.2" stroke="#ff8500" stroke-width="4.5"/><text x="1183.5" y="1716.4" font-size="20" fill="#111">medium</text><text x="1311.5" y="1716.4" font-size="20" fill="#111">5.5 - 5.7 %, n=43</text><rect x="1142" y="1737.2" width="32" height="31" fill="#de2131" fill-opacity="0.5"/><line x1="1145.5" y1="1752.7" x2="1170.5" y2="1752.7" stroke="#e00012" stroke-width="4.5"/><text x="1181.5" y="1759" font-size="20" fill="#111">high</text><text x="1311.5" y="1759" font-size="20" fill="#111">&gt; 5.7 %, n=34</text></svg></body></html>
